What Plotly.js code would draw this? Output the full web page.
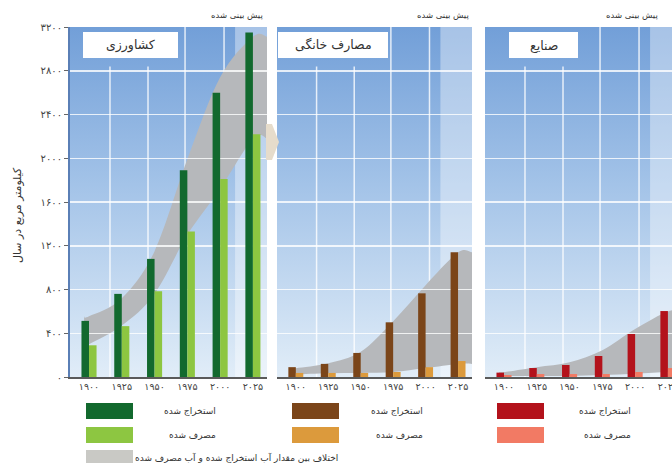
<!DOCTYPE html>
<html><head><meta charset="utf-8">
<script src="https://cdn.plot.ly/plotly-3.0.1.min.js"></script>
<style>html,body{margin:0;padding:0;overflow:hidden;background:#fff;width:672px;height:463px}#chart{width:700px;height:463px}</style>
</head><body><div id="chart"></div>
<script>
// ---- data ----
const years = [1900, 1925, 1950, 1975, 2000, 2025];
const yTicks = [0, 400, 800, 1200, 1600, 2000, 2400, 2800, 3200];

const agriWithdrawn = [513, 760, 1080, 1890, 2600, 3150];
const agriConsumed  = [290, 465, 785, 1330, 1810, 2220];
const agriBandUpper = [555, 720, 1150, 1990, 2740, 3110];
const agriBandLower = [300, 470, 760, 1300, 1720, 2180];

const domWithdrawn = [90, 120, 220, 500, 765, 1140];
const domConsumed  = [37, 37, 37, 46, 90, 146];
const domBandUpper = [80, 125, 230, 510, 840, 1140];
const domBandLower = [25, 35, 37, 45, 82, 120];

const indWithdrawn = [40, 82, 110, 192, 393, 603];
const indConsumed  = [18, 27, 27, 27, 46, 82];
const indBandUpper = [45, 90, 135, 245, 440, 600];
const indBandLower = [8, 9, 9, 18, 30, 45];

const panelTitles = ['کشاورزی', 'مصارف خانگی', 'صنایع'];
const forecastLabel = 'پیش بینی شده';
const yTitle = 'کیلومتر مربع در سال';
const legendWithdrawn = 'استخراج شده';
const legendConsumed = 'مصرف شده';
const legendBand = 'اختلاف بین مقدار آب استخراج شده و آب مصرف شده';

// ---- helpers ----
const FONT = 'DejaVu Sans';
const fa = s => String(s).replace(/\d/g, d => '۰۱۲۳۴۵۶۷۸۹'[d]);
const W = 700, H = 463;
const X = p => p / W, Y = p => 1 - p / H;
const idx = years.map((_, i) => i);
const XR = [-0.58, 5.43];
const xAt = f => XR[0] + f * (XR[1] - XR[0]);

function spline(pts) {
  let d = '';
  for (let i = 0; i < pts.length - 1; i++) {
    const p0 = pts[Math.max(i - 1, 0)], p1 = pts[i], p2 = pts[i + 1], p3 = pts[Math.min(i + 2, pts.length - 1)];
    const c1 = [p1[0] + (p2[0] - p0[0]) / 6, p1[1] + (p2[1] - p0[1]) / 6];
    const c2 = [p2[0] - (p3[0] - p1[0]) / 6, p2[1] - (p3[1] - p1[1]) / 6];
    d += ` C ${c1[0]},${c1[1]} ${c2[0]},${c2[1]} ${p2[0]},${p2[1]}`;
  }
  return d;
}
function bandPath(upper, lower) {
  const xs = [-0.15].concat(idx, [5.43]);
  const up = [upper[0]].concat(upper, [upper[upper.length - 1]]);
  const lo = [lower[0]].concat(lower, [lower[lower.length - 1]]);
  const U = xs.map((x, i) => [x, up[i]]);
  const L = xs.map((x, i) => [x, lo[i]]).reverse();
  return `M ${U[0][0]},${U[0][1]}` + spline(U) + ` L ${L[0][0]},${L[0][1]}` + spline(L) + ' Z';
}

const bgSvg = 'data:image/svg+xml;utf8,' + encodeURIComponent(
  '<svg xmlns="http://www.w3.org/2000/svg" width="100" height="100" viewBox="0 0 100 100" preserveAspectRatio="none">' +
  '<defs><linearGradient id="g" x1="0" y1="0" x2="0" y2="1">' +
  '<stop offset="0" stop-color="#729fd8"/><stop offset="0.45" stop-color="#a3c3e8"/><stop offset="1" stop-color="#e1edf8"/>' +
  '</linearGradient></defs><rect width="100" height="100" fill="url(#g)"/></svg>');

const panels = [
  {w: agriWithdrawn, c: agriConsumed, bu: agriBandUpper, bl: agriBandLower, cw: '#12692e', cc: '#8dc641', x0: 70, x1: 267,
   box: [83, 178], textRight: 265, legX: 86, legTextRight: 218},
  {w: domWithdrawn, c: domConsumed, bu: domBandUpper, bl: domBandLower, cw: '#7b4519', cc: '#dc9a3c', x0: 277, x1: 472,
   box: [278, 388], textRight: 471, legX: 292, legTextRight: 425},
  {w: indWithdrawn, c: indConsumed, bu: indBandUpper, bl: indBandLower, cw: '#b3121b', cc: '#f27a64', x0: 485, x1: 682,
   box: [509, 578], textRight: 660, legX: 497, legTextRight: 633}
];

const data = [], shapes = [], annotations = [], images = [];
const layout = {
  width: W, height: H, margin: {l: 0, r: 0, t: 0, b: 0},
  paper_bgcolor: '#ffffff', plot_bgcolor: 'rgba(0,0,0,0)',
  barmode: 'group', bargap: 0.54, bargroupgap: 0,
  showlegend: false, font: {family: FONT, color: '#333'}
};

panels.forEach((p, k) => {
  const n = k === 0 ? '' : String(k + 1);
  const xa = 'x' + n, ya = 'y' + n;
  layout['xaxis' + n] = {
    domain: [X(p.x0), X(p.x1)], range: XR, anchor: ya,
    tickmode: 'array', tickvals: idx, ticktext: years.map(fa),
    tickfont: {size: 9.5, color: '#444', family: FONT}, ticks: '',
    showline: true, linecolor: '#5a5a5a', linewidth: 1.5, showgrid: false, zeroline: false, fixedrange: true
  };
  layout['yaxis' + n] = {
    domain: [Y(377), Y(27)], range: [0, 3200], anchor: xa,
    tickmode: 'array', tickvals: yTicks, ticktext: yTicks.map(fa),
    showticklabels: k === 0, ticks: k === 0 ? 'outside' : '', ticklen: 4, tickcolor: '#666',
    tickfont: {size: 10, color: '#444', family: FONT},
    showline: k === 0, linecolor: '#5a7fb6', linewidth: 2,
    showgrid: true, gridcolor: 'rgba(255,255,255,0.8)', gridwidth: 1.5, zeroline: false, fixedrange: true
  };
  // gradient background of the panel
  images.push({source: bgSvg, xref: 'paper', yref: 'paper', x: X(p.x0), y: Y(27), sizex: X(p.x1) - X(p.x0), sizey: (377 - 27) / H,
    xanchor: 'left', yanchor: 'top', sizing: 'stretch', layer: 'below'});

  // decorative vertical grid lines
  [0.203, 0.396, 0.584, 0.782].forEach((f, j) => {
    shapes.push({type: 'line', xref: xa, yref: ya, x0: xAt(f), x1: xAt(f), y0: 0, y1: j < 2 ? 2840 : 3200,
      line: {color: 'rgba(255,255,255,0.8)', width: 1.5}, layer: 'below'});
  });
  // forecast (projected) region
  shapes.push({type: 'rect', xref: xa, yref: ya, x0: xAt(0.838), x1: XR[1], y0: 0, y1: 3200,
    fillcolor: 'rgba(255,255,255,0.38)', line: {width: 0}, layer: 'below'});
  // difference band
  shapes.push({type: 'path', xref: xa, yref: ya, path: bandPath(p.bu, p.bl),
    fillcolor: '#b6b8bb', line: {width: 0}, layer: 'below'});

  data.push({type: 'bar', x: idx, y: p.w, xaxis: xa, yaxis: ya, marker: {color: p.cw}, hoverinfo: 'skip'});
  data.push({type: 'bar', x: idx, y: p.c, xaxis: xa, yaxis: ya, marker: {color: p.cc}, hoverinfo: 'skip'});

  // panel label box
  shapes.push({type: 'rect', xref: 'paper', yref: 'paper', x0: X(p.box[0]), x1: X(p.box[1]), y0: Y(58), y1: Y(32),
    fillcolor: '#ffffff', line: {width: 0}, layer: 'above'});
  annotations.push({xref: 'paper', yref: 'paper', x: X((p.box[0] + p.box[1]) / 2), y: Y(45), text: panelTitles[k],
    showarrow: false, font: {size: 12.5, color: '#333', family: FONT}, xanchor: 'center', yanchor: 'middle'});
  annotations.push({xref: 'paper', yref: 'paper', x: X(p.textRight), y: Y(15), text: forecastLabel,
    showarrow: false, font: {size: 8.5, color: '#333', family: FONT}, xanchor: 'right', yanchor: 'middle'});

  // legend
  [[p.cw, legendWithdrawn, 411], [p.cc, legendConsumed, 435]].forEach(([col, txt, cy]) => {
    shapes.push({type: 'rect', xref: 'paper', yref: 'paper', x0: X(p.legX), x1: X(p.legX + 47), y0: Y(cy + 8), y1: Y(cy - 8),
      fillcolor: col, line: {width: 0}, layer: 'above'});
    annotations.push({xref: 'paper', yref: 'paper', x: X(p.legTextRight), y: Y(cy), text: txt, showarrow: false,
      font: {size: 9, color: '#333', family: FONT}, xanchor: 'right', yanchor: 'middle'});
  });
});

// third legend row (band)
shapes.push({type: 'rect', xref: 'paper', yref: 'paper', x0: X(86), x1: X(133), y0: Y(466), y1: Y(450),
  fillcolor: '#c9c9c5', line: {width: 0}, layer: 'above'});
annotations.push({xref: 'paper', yref: 'paper', x: X(340), y: Y(457), text: legendBand, showarrow: false,
  font: {size: 9, color: '#333', family: FONT}, xanchor: 'right', yanchor: 'middle'});

// tan arrow between panel 1 and 2
shapes.push({type: 'path', xref: 'paper', yref: 'paper',
  path: `M ${X(266)},${Y(124)} L ${X(272)},${Y(124)} L ${X(279)},${Y(142)} L ${X(272)},${Y(160)} L ${X(266)},${Y(160)} Z`,
  fillcolor: '#e6dccb', line: {width: 0}, layer: 'above'});

// y axis title
annotations.push({xref: 'paper', yref: 'paper', x: X(18), y: Y(215), text: yTitle, textangle: -90, showarrow: false,
  font: {size: 11, color: '#333', family: FONT}, xanchor: 'center', yanchor: 'middle'});

layout.shapes = shapes;
layout.annotations = annotations;
layout.images = images;

Plotly.newPlot('chart', data, layout, {staticPlot: true, displayModeBar: false});
</script></body></html>
